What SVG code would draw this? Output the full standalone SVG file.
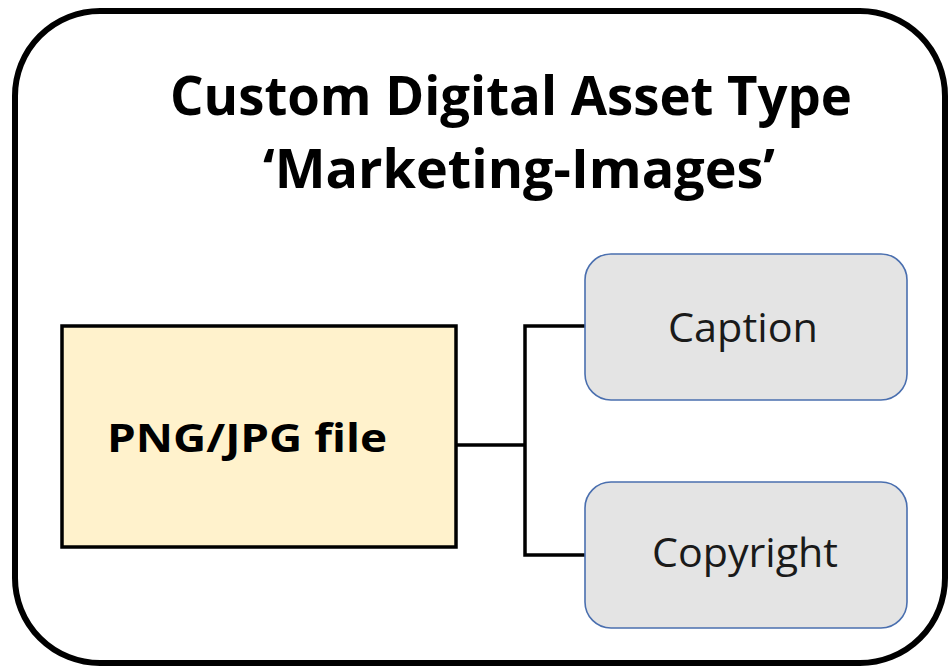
<svg xmlns="http://www.w3.org/2000/svg" width="950" height="668" viewBox="0 0 950 668">
<style>
.title{font-family:"Open Sans","Liberation Sans",sans-serif;font-weight:bold;font-size:54px;fill:#000}
.main{font-family:"Open Sans","Liberation Sans",sans-serif;font-weight:bold;font-size:40px;fill:#000}
.attr{font-family:"Open Sans","Liberation Sans",sans-serif;font-size:40px;fill:#1a1a1a}
.abox{fill:#E4E4E4;stroke:#4A6FAF;stroke-width:1.6}
.conn{fill:none;stroke:#000;stroke-width:3.5}
</style>
<rect width="950" height="668" fill="#fff"/>
<g id="container">
<rect x="15" y="11" width="930" height="652" rx="85" ry="85" fill="#fff" stroke="#000" stroke-width="6"/>
<text class="title" x="511" y="115" text-anchor="middle" textLength="682" lengthAdjust="spacingAndGlyphs">Custom Digital Asset Type</text>
<text class="title" x="519" y="188" text-anchor="middle" textLength="512" lengthAdjust="spacingAndGlyphs">‘Marketing-Images’</text>
</g>
<g id="connectors">
<polyline class="conn" points="457,445 525,445"/>
<polyline class="conn" points="585,326 525,326 525,555 585,555"/>
</g>
<g id="file">
<rect x="62" y="326" width="394" height="221" fill="#FFF2CC" stroke="#000" stroke-width="3.5"/>
<text class="main" x="107" y="452" textLength="280" lengthAdjust="spacingAndGlyphs">PNG/JPG file</text>
</g>
<g id="caption">
<rect class="abox" x="585" y="254" width="322" height="146" rx="26" ry="26"/>
<text class="attr" x="668" y="342" textLength="150" lengthAdjust="spacingAndGlyphs">Caption</text>
</g>
<g id="copyright">
<rect class="abox" x="585" y="482" width="322" height="146" rx="26" ry="26"/>
<text class="attr" x="652" y="567" textLength="186" lengthAdjust="spacingAndGlyphs">Copyright</text>
</g>
</svg>
